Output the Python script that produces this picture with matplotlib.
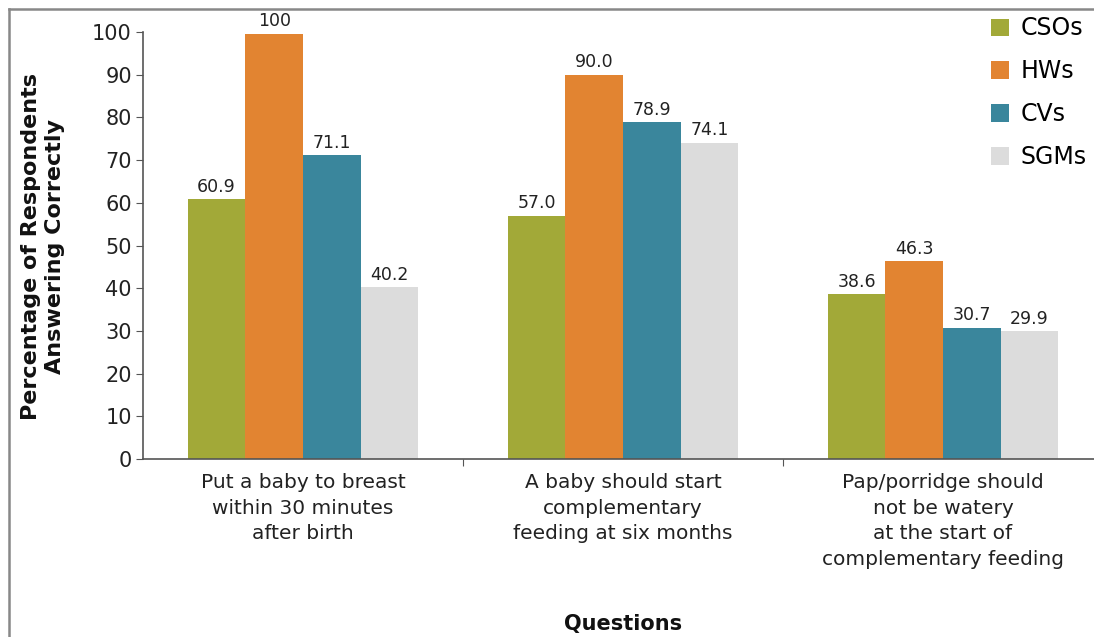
import matplotlib
matplotlib.use("Agg")
import matplotlib.pyplot as plt
from matplotlib.lines import Line2D
import numpy as np

categories = ["Put a baby to breast\nwithin 30 minutes\nafter birth",
              "A baby should start\ncomplementary\nfeeding at six months",
              "Pap/porridge should\nnot be watery\nat the start of\ncomplementary feeding"]
series_names = ["CSOs", "HWs", "CVs", "SGMs"]
csos = [60.9, 57.0, 38.6]
hws = [99.6, 90.0, 46.3]
cvs = [71.1, 78.9, 30.7]
sgms = [40.2, 74.1, 29.9]
value_labels = [["60.9", "57.0", "38.6"], ["100", "90.0", "46.3"],
                ["71.1", "78.9", "30.7"], ["40.2", "74.1", "29.9"]]
colors = ["#A2A938", "#E28431", "#3A869C", "#DCDCDC"]

plt.rcParams['font.family'] = ['DejaVu Sans']

W, H = 1094, 637
fig = plt.figure(figsize=(W / 100, H / 100), dpi=100)
ax = fig.add_axes([143 / W, (H - 459) / H, (1103 - 143) / W, 427 / H])
ax.set_xlim(-0.5, 2.5)
ax.set_ylim(0, 100)

x = np.arange(len(categories))
bw = 0.18
data = [csos, hws, cvs, sgms]
for i, (vals, c, name, labs) in enumerate(zip(data, colors, series_names, value_labels)):
    pos = x + (i - 1.5) * bw
    bars = ax.bar(pos, vals, bw, color=c, label=name, clip_on=False)
    for b, v, l in zip(bars, vals, labs):
        ax.text(b.get_x() + b.get_width() / 2, v + 0.8, l, ha='center', va='bottom',
                fontsize=12.5, color='#222222')

for s in ['top', 'right']:
    ax.spines[s].set_visible(False)
for s in ['left', 'bottom']:
    ax.spines[s].set_color('#555555')
    ax.spines[s].set_linewidth(1.2)

ax.set_yticks(np.arange(0, 101, 10))
ax.tick_params(axis='y', labelsize=15, length=5, color='#555555', labelcolor='#222222', pad=3)
ax.set_xticks([0.5, 1.5])
ax.set_xticklabels([])
ax.tick_params(axis='x', which='major', length=5, color='#555555')
ax.set_xticks(x, minor=True)
ax.set_xticklabels(categories, minor=True, fontsize=14.5, color='#222222', linespacing=1.45)
ax.tick_params(axis='x', which='minor', length=0, pad=10)

fig.text(43 / W, (H - 247) / H, "Percentage of Respondents\nAnswering Correctly", rotation=90,
         ha='center', va='center', fontsize=16, fontweight='bold', color='#111111', linespacing=1.25)
fig.text(623 / W, (H - 624) / H, "Questions", ha='center', va='center', fontsize=15,
         fontweight='bold', color='#111111')

leg = ax.legend(loc='upper right', bbox_to_anchor=(1096 / W, (H - 7) / H),
                bbox_transform=fig.transFigure, frameon=False, fontsize=17,
                handlelength=0.75, handleheight=0.75, handletextpad=0.5, labelspacing=0.8,
                borderaxespad=0)

fig.add_artist(Line2D([9 / W, 1], [(H - 9) / H, (H - 9) / H], transform=fig.transFigure,
                      color='#888888', lw=1.8))
fig.add_artist(Line2D([9 / W, 9 / W], [0, (H - 9) / H], transform=fig.transFigure,
                      color='#888888', lw=1.8))

fig.savefig("out.png", dpi=100)
